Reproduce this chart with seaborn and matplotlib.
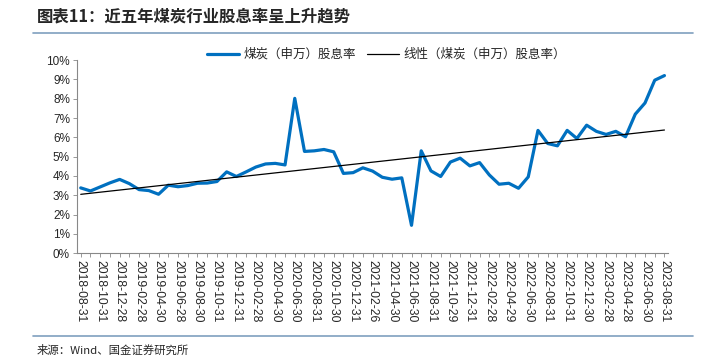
import numpy as np
import pandas as pd
import seaborn as sns
import matplotlib.pyplot as plt
from matplotlib.lines import Line2D

# dividend yield (%), monthly 2018-08 .. 2023-08
dividend_yield = [3.38, 3.22, 3.43, 3.64, 3.82, 3.60, 3.29, 3.24, 3.05, 3.52,
                  3.44, 3.50, 3.62, 3.63, 3.71, 4.21, 3.97, 4.21, 4.46, 4.62,
                  4.65, 4.57, 8.02, 5.27, 5.30, 5.37, 5.25, 4.13, 4.17, 4.42,
                  4.25, 3.93, 3.83, 3.90, 1.44, 5.30, 4.26, 3.97, 4.72, 4.92,
                  4.52, 4.69, 4.05, 3.57, 3.62, 3.36, 3.95, 6.36, 5.68, 5.56,
                  6.36, 5.94, 6.63, 6.31, 6.15, 6.31, 6.03, 7.20, 7.78, 8.96,
                  9.20]

tick_labels = ['2018-08-31', '2018-10-31', '2018-12-28', '2019-02-28', '2019-04-30',
               '2019-06-28', '2019-08-30', '2019-10-31', '2019-12-31', '2020-02-28',
               '2020-04-30', '2020-06-30', '2020-08-31', '2020-10-30', '2020-12-31',
               '2021-02-26', '2021-04-30', '2021-06-30', '2021-08-31', '2021-10-29',
               '2021-12-31', '2022-02-28', '2022-04-29', '2022-06-30', '2022-08-31',
               '2022-10-31', '2022-12-30', '2023-02-28', '2023-04-28', '2023-06-30',
               '2023-08-31']

df = pd.DataFrame({'idx': np.arange(len(dividend_yield)), 'yield': dividend_yield})
coef = np.polyfit(df['idx'], df['yield'], 1)
df['trend'] = np.polyval(coef, df['idx'])

sns.set_style('ticks')
plt.rcParams['font.family'] = ['Liberation Sans', 'Noto Sans CJK SC', 'DejaVu Sans']
cjk = ['Noto Sans CJK SC', 'DejaVu Sans']

fig = plt.figure(figsize=(7.05, 3.58), dpi=100)
ax = fig.add_axes([0.109, 0.293, 0.839, 0.539])

sns.lineplot(data=df, x='idx', y='yield', ax=ax, color='#0070C0', linewidth=2.3)
sns.lineplot(data=df, x='idx', y='trend', ax=ax, color='black', linewidth=0.9)

ax.set_xlim(-0.4, len(dividend_yield) - 0.6)
ax.set_ylim(0, 10)
ax.set_yticks(range(0, 11))
ax.set_yticklabels([f'{v}%' for v in range(0, 11)], fontsize=8.5)
ax.set_xticks(range(0, len(dividend_yield), 2))
ax.set_xticklabels(tick_labels, rotation=-90, fontsize=8.7)
ax.set_xticks(range(len(dividend_yield)), minor=True)
ax.tick_params(axis='x', which='both', length=3, width=0.6, color='#888888', pad=2)
ax.tick_params(axis='y', length=3, width=0.6, color='#888888', pad=2)
ax.set_xlabel('')
ax.set_ylabel('')
for s in ['top', 'right']:
    ax.spines[s].set_visible(False)
for s in ['left', 'bottom']:
    ax.spines[s].set_color('#888888')
    ax.spines[s].set_linewidth(0.8)

handles = [Line2D([], [], color='#0070C0', linewidth=2.3),
           Line2D([], [], color='black', linewidth=0.9)]
fig.legend(handles, ['煤炭（申万）股息率', '线性（煤炭（申万）股息率）'],
           loc='center', bbox_to_anchor=(0.548, 0.848), ncol=2, frameon=False,
           prop={'family': cjk, 'size': 9}, handlelength=2.6, columnspacing=0.9,
           handletextpad=0.3)

fig.text(0.052, 0.953, '图表11：近五年煤炭行业股息率呈上升趋势', family=cjk,
         fontsize=11.8, fontweight='bold', style='italic', va='center')
fig.add_artist(Line2D([0.047, 0.983], [0.908, 0.908], color='#7f9fbf', linewidth=1.2))
fig.add_artist(Line2D([0.047, 0.983], [0.062, 0.062], color='#7f9fbf', linewidth=1.2))
fig.text(0.052, 0.022, '来源：Wind、国金证券研究所', family=cjk, fontsize=8.2, va='center')

plt.savefig('out.png', dpi=100)
